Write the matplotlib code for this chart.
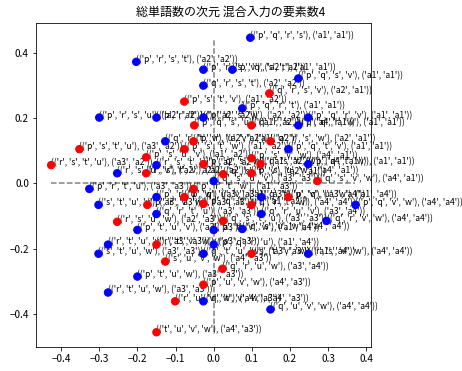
import matplotlib
matplotlib.use("Agg")
import matplotlib.pyplot as plt

plt.rcParams['font.family'] = ['Noto Sans CJK JP', 'DejaVu Sans']
plt.rcParams['axes.unicode_minus'] = True

title = "総単語数の次元 混合入力の要素数4"

xs = [0.096, -0.203, -0.027, 0.049, 0.222, -0.027, 0.146, -0.077, 0.075, -0.300,
      -0.150, -0.027, 0.248, -0.051, 0.099, 0.222, -0.127, -0.053, 0.149, -0.352,
      -0.077, 0.196, -0.177, 0.099, -0.426, -0.150, -0.027, 0.123, 0.248, -0.253,
      -0.177, 0.025, 0.099, 0.000, 0.272, -0.326, -0.053, -0.150, -0.077, 0.125,
      0.196, -0.027, -0.302, -0.174, 0.099, 0.372, -0.150, 0.125, -0.253, 0.025,
      0.296, -0.200, 0.000, 0.075, -0.277, -0.150, 0.000, -0.302, -0.027, 0.099,
      0.248, -0.127, 0.023, -0.200, -0.027, -0.277, -0.101, -0.027, 0.149, -0.150]
ys = [0.447, 0.373, 0.349, 0.349, 0.322, 0.300, 0.276, 0.251, 0.230, 0.202,
      0.202, 0.202, 0.202, 0.178, 0.178, 0.178, 0.129, 0.129, 0.129, 0.105,
      0.105, 0.105, 0.080, 0.077, 0.056, 0.056, 0.059, 0.059, 0.059, 0.031,
      0.031, 0.028, 0.031, 0.007, 0.007, -0.017, -0.017, -0.042, -0.042, -0.042,
      -0.042, -0.063, -0.066, -0.066, -0.066, -0.066, -0.094, -0.094, -0.118, -0.115,
      -0.115, -0.143, -0.143, -0.140, -0.188, -0.188, -0.188, -0.216, -0.216, -0.216,
      -0.216, -0.240, -0.262, -0.286, -0.311, -0.335, -0.362, -0.362, -0.387, -0.457]
colors = ['blue', 'blue', 'blue', 'blue', 'blue', 'blue', 'red', 'red', 'blue', 'blue',
          'blue', 'blue', 'blue', 'red', 'red', 'blue', 'blue', 'red', 'red', 'red',
          'red', 'blue', 'red', 'red', 'red', 'blue', 'red', 'red', 'blue', 'blue',
          'red', 'red', 'red', 'blue', 'red', 'blue', 'red', 'blue', 'red', 'blue',
          'red', 'red', 'blue', 'red', 'red', 'blue', 'blue', 'blue', 'red', 'red',
          'blue', 'blue', 'blue', 'blue', 'blue', 'red', 'blue', 'blue', 'blue', 'red',
          'blue', 'red', 'red', 'blue', 'red', 'blue', 'red', 'blue', 'blue', 'red']
words = ['pqrs', 'prst', 'prsv', 'pqst', 'pqsv', 'qrst', 'qrsv', 'pstv', 'pqrt', 'prsu',
         'prtv', 'prsw', 'pqrv', 'pqsu', 'qrsu', 'pqrw', 'qrtv', 'pruv', 'qrsw', 'pstu',
         'pstw', 'pqtv', 'psuv', 'psvw', 'rstu', 'rstw', 'pqsw', 'qstw', 'pqtw', 'rsuv',
         'rstv', 'qstv', 'psuw', 'qsuv', 'qsvw', 'prtu', 'prtw', 'pruw', 'pquv', 'qtuv',
         'pquw', 'pqtu', 'stuv', 'prvw', 'qrtw', 'pqvw', 'qrtu', 'qruv', 'rsuw', 'qstu',
         'qrvw', 'ptuv', 'ptvw', 'qsuw', 'rtuv', 'rtvw', 'pqru', 'stuw', 'qtuw', 'stvw',
         'rsvw', 'suvw', 'qruw', 'ptuw', 'puvw', 'rtuw', 'ruvw', 'qtvw', 'quvw', 'tuvw']
pairs = [('a1', 'a1'), ('a2', 'a2'), ('a2', 'a2'), ('a1', 'a1'), ('a1', 'a1'), ('a2', 'a2'), ('a2', 'a1'), ('a1', 'a2'), ('a1', 'a1'), ('a2', 'a2'),
         ('a2', 'a2'), ('a2', 'a2'), ('a1', 'a1'), ('a1', 'a2'), ('a4', 'a1'), ('a1', 'a1'), ('a2', 'a2'), ('a1', 'a2'), ('a2', 'a1'), ('a3', 'a2'),
         ('a1', 'a2'), ('a1', 'a1'), ('a1', 'a2'), ('a4', 'a1'), ('a3', 'a2'), ('a2', 'a2'), ('a1', 'a2'), ('a4', 'a1'), ('a1', 'a1'), ('a2', 'a2'),
         ('a2', 'a2'), ('a2', 'a1'), ('a4', 'a1'), ('a3', 'a3'), ('a4', 'a1'), ('a3', 'a3'), ('a1', 'a3'), ('a3', 'a3'), ('a1', 'a3'), ('a3', 'a4'),
         ('a1', 'a4'), ('a1', 'a2'), ('a3', 'a3'), ('a3', 'a3'), ('a4', 'a4'), ('a4', 'a4'), ('a3', 'a3'), ('a3', 'a4'), ('a2', 'a3'), ('a3', 'a3'),
         ('a4', 'a4'), ('a3', 'a3'), ('a1', 'a4'), ('a4', 'a4'), ('a3', 'a3'), ('a3', 'a3'), ('a1', 'a4'), ('a3', 'a3'), ('a3', 'a3'), ('a1', 'a4'),
         ('a4', 'a4'), ('a4', 'a3'), ('a3', 'a4'), ('a3', 'a3'), ('a4', 'a3'), ('a3', 'a3'), ('a4', 'a3'), ('a4', 'a3'), ('a4', 'a4'), ('a4', 'a3')]

fig = plt.figure(figsize=(462 / 72, 371 / 72), dpi=72)
ax = fig.add_axes([0.0779, 0.0647, 0.7245, 0.8733])

ax.plot([min(xs), max(xs)], [0, 0], '--', color='gray', zorder=1)
ax.plot([0, 0], [min(ys), max(ys)], '--', color='gray', zorder=1)
ax.scatter(xs, ys, c=colors, s=55, zorder=3)
for x, y, w, p in zip(xs, ys, words, pairs):
    label = str((tuple(w), p))
    ax.text(x, y, label, fontsize=8.5, ha='left', va='baseline', zorder=2)

fig.text(0.5, 1 - 12 / 371, title, fontsize=12, ha='center', va='center')
fig.savefig("out.png", dpi=72)
